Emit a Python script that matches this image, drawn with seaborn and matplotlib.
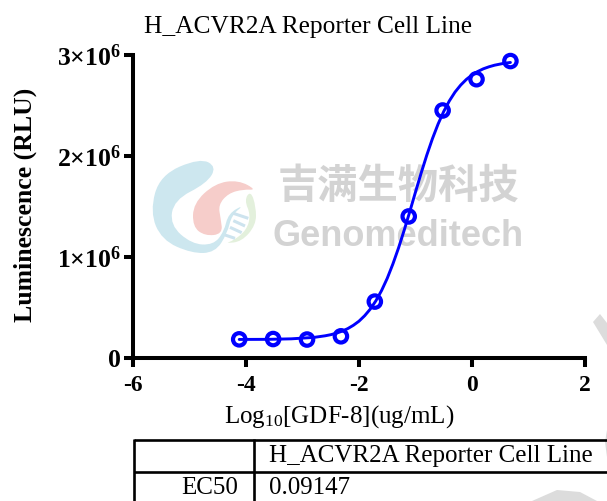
import matplotlib
matplotlib.use('Agg')
import matplotlib.pyplot as plt
from matplotlib.patches import PathPatch, Polygon
from matplotlib.path import Path
import pandas as pd
import seaborn as sns

log_conc = [-4.12, -3.52, -2.92, -2.32, -1.72, -1.12, -0.52, 0.08, 0.68]
luminescence = [182000, 185000, 180000, 212000, 556000, 1400000, 2450000, 2760000, 2940000]

# fitted curve
curve_x = [-4.12, -3.6, -3.2, -2.8, -2.6, -2.5, -2.4, -2.3, -2.2, -2.1, -2.0, -1.9,
           -1.8, -1.7, -1.6, -1.5, -1.4, -1.3, -1.2, -1.1, -1.0, -0.9, -0.8, -0.7,
           -0.6, -0.5, -0.4, -0.3, -0.2, -0.1, 0.0, 0.1, 0.2, 0.3, 0.4, 0.55, 0.68]
curve_y = [181000, 182000, 187000, 201000, 217000, 228000, 243000, 263000, 288000,
           321000, 362000, 416000, 482000, 565000, 666000, 787000, 929000, 1088000,
           1264000, 1450000, 1642000, 1830000, 2008000, 2171000, 2316000, 2441000,
           2546000, 2633000, 2702000, 2758000, 2802000, 2836000, 2863000, 2883000,
           2899000, 2916000, 2926000]

x_ticks = [-6, -4, -2, 0, 2]
y_ticks = [0, 1000000, 2000000, 3000000]
y_tick_labels = ['0', r'$\mathbf{1{\times}10^{6}}$', r'$\mathbf{2{\times}10^{6}}$', r'$\mathbf{3{\times}10^{6}}$']

title = 'H_ACVR2A Reporter Cell Line'
row_label = 'EC50'
ec50_value = '0.09147'

W, H = 607, 501
BLUE = '#0000ff'


def smooth_blob(points):
    # closed quadratic spline through the midpoints of the control points
    n = len(points)
    mid = lambda a, b: ((a[0] + b[0]) / 2, (a[1] + b[1]) / 2)
    verts = [mid(points[-1], points[0])]
    codes = [Path.MOVETO]
    for i in range(n):
        verts += [points[i], mid(points[i], points[(i + 1) % n])]
        codes += [Path.CURVE3, Path.CURVE3]
    return Path(verts, codes)


def logo_points(points):
    return [(150 + x / 3, 150 + y / 3) for x, y in points]


def draw_watermark(bg):
    c_shape = [(150, 24), (200, 50), (170, 100), (72, 150), (60, 225), (125, 282),
               (190, 285), (222, 245), (235, 190), (285, 163), (245, 195), (232, 250),
               (195, 308), (125, 310), (35, 270), (0, 185), (30, 75)]
    pink = [(320, 120), (265, 90), (195, 100), (130, 160), (128, 230), (165, 258),
            (218, 252), (212, 205), (205, 165), (235, 130), (280, 118)]
    green = [(302, 122), (283, 150), (302, 195), (290, 240), (250, 272), (225, 280),
             (275, 275), (318, 225), (318, 170)]
    bg.add_patch(PathPatch(smooth_blob(logo_points(green)), fc='#e3f0dc', ec='none'))
    bg.add_patch(PathPatch(smooth_blob(logo_points(pink)), fc='#f6cdca', ec='none'))
    bg.add_patch(PathPatch(smooth_blob(logo_points(c_shape)), fc='#cde7ef', ec='none'))
    for x0, y0, x1, y1 in [(250, 190, 295, 205), (250, 212, 285, 228),
                           (240, 232, 275, 248), (225, 255, 255, 265)]:
        bg.plot([150 + x0 / 3, 150 + x1 / 3], [150 + y0 / 3, 150 + y1 / 3],
                color='#cde3ee', lw=2.2, solid_capstyle='butt')

    bg.text(398, 186, '吉满生物科技', family='Noto Sans CJK SC', weight='bold',
            fontsize=29, color='#d3d3d3', ha='center', va='center')
    bg.text(398.5, 237, 'Genomeditech', family='Liberation Sans', weight='bold',
            fontsize=26, color='#d3d3d3', ha='center', va='center')

    # diagonal bands of the page watermark
    for band in [[(593, 322), (600, 314), (607, 323), (607, 345)],
                 [(607, 430), (605, 442), (607, 457)],
                 [(532, 501), (557, 490), (580, 492), (597, 501)]]:
        bg.add_patch(Polygon(band, closed=True, fc='#dcdcdc', ec='none'))


def draw_table(bg):
    for y in [440, 472]:
        bg.plot([134, W], [y, y], color='black', lw=1.9, solid_capstyle='butt')
    for x in [134, 254]:
        bg.plot([x, x], [439, H], color='black', lw=1.9, solid_capstyle='butt')
    font = dict(family='Liberation Serif', fontsize=18, color='black', va='center')
    bg.text(269, 456, title, ha='left', **font)
    bg.text(238, 488, row_label, ha='right', **font)
    bg.text(269, 488, ec50_value, ha='left', **font)


sns.set_theme(style='ticks')
plt.rcParams['font.family'] = ['Liberation Serif', 'DejaVu Sans']
plt.rcParams['mathtext.fontset'] = 'custom'
plt.rcParams['mathtext.rm'] = 'Liberation Serif'
plt.rcParams['mathtext.bf'] = 'Liberation Serif:bold'
plt.rcParams['mathtext.it'] = 'Liberation Serif:italic'

fig = plt.figure(figsize=(W / 100, H / 100), dpi=100, facecolor='white')

bg = fig.add_axes([0, 0, 1, 1], zorder=0)
bg.set_xlim(0, W)
bg.set_ylim(H, 0)
bg.axis('off')
draw_watermark(bg)
draw_table(bg)

ax = fig.add_axes([133 / W, 1 - 357.7 / H, 452 / W, 302.7 / H], zorder=1)
ax.patch.set_visible(False)

curve_df = pd.DataFrame({'x': curve_x, 'y': curve_y})
points_df = pd.DataFrame({'x': log_conc, 'y': luminescence})

sns.lineplot(data=curve_df, x='x', y='y', color=BLUE, linewidth=2.1, ax=ax)
sns.scatterplot(data=points_df, x='x', y='y', s=80, facecolor='none',
                edgecolor=BLUE, linewidth=3.0, clip_on=False, zorder=3, ax=ax)

ax.set_xlim(-6, 2)
ax.set_ylim(0, 3000000)
ax.set_xticks(x_ticks)
ax.set_xticklabels([str(t) for t in x_ticks])
ax.set_yticks(y_ticks)
ax.set_yticklabels(y_tick_labels)
sns.despine(ax=ax)

for side in ['left', 'bottom']:
    ax.spines[side].set_linewidth(2.9)
    ax.spines[side].set_color('black')
ax.tick_params(axis='x', length=6.5, width=2.9, color='black', labelcolor='black',
               labelsize=17, pad=6)
ax.tick_params(axis='y', length=6.5, width=2.9, color='black', labelcolor='black',
               labelsize=18.5, pad=2)
for label in ax.get_xticklabels() + ax.get_yticklabels():
    label.set_fontweight('bold')

ax.set_xlabel(r'Log$_{10}$[GDF-8](ug/mL)', fontsize=18, color='black')
ax.xaxis.set_label_coords(206 / 452, -45 / 302.7, transform=ax.transAxes)
ax.set_ylabel('Luminescence (RLU)', fontsize=18.5, fontweight='bold', color='black')
ax.yaxis.set_label_coords(-96 / 452, 0.504, transform=ax.transAxes)
ax.text(174.5 / 452, 331 / 302.7, title, transform=ax.transAxes, ha='center', va='center',
        fontsize=18.3, color='black')

fig.savefig('out.png', dpi=100)
